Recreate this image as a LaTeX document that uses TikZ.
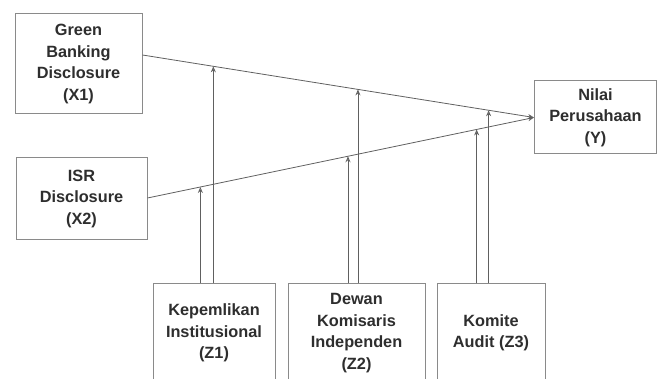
\documentclass[tikz,border=0pt]{standalone}
\usepackage{fontspec}
\setmainfont{Liberation Sans}
\usetikzlibrary{calc,arrows.meta}
\definecolor{boxc}{HTML}{8A8A8A}
\definecolor{linec}{HTML}{606060}
\definecolor{txtc}{HTML}{2E2E2E}
\tikzset{
  varbox/.style={draw=boxc,line width=1pt,fill=white,align=center,inner sep=0pt,
    text=txtc,font=\fontsize{16.3}{21.5}\selectfont\bfseries},
  conn/.style={draw=linec,line width=0.8pt,-{Stealth[length=6pt,width=5pt,open]}},
}
\begin{document}
\begin{tikzpicture}[x=1pt,y=-1pt]
\useasboundingbox (0,0) rectangle (657,379);
\clip (0,0) rectangle (657,379);
\node[varbox,minimum width=127pt,minimum height=100pt] (X1) at (78.5,64) {Green\\Banking\\Disclosure\\(X1)};
\node[varbox,minimum width=131pt,minimum height=82pt] (X2) at (81.5,199) {ISR\\Disclosure\\(X2)};
\node[varbox,minimum width=122pt,minimum height=73pt] (Y) at (595.5,117.5) {Nilai\\Perusahaan\\(Y)};
\node[varbox,minimum width=122pt,minimum height=98pt] (Z1) at (214,333) {Kepemlikan\\Institusional\\(Z1)};
\node[varbox,minimum width=137pt,minimum height=98pt] (Z2) at (356.5,333) {Dewan\\Komisaris\\Independen\\(Z2)};
\node[varbox,minimum width=108pt,minimum height=98pt] (Z3) at (491,333) {Komite\\Audit (Z3)};
\coordinate (s1) at (X1.east |- 0,55);
\coordinate (s2) at (X2.east |- 0,198);
\draw[conn] (s1) -- (Y.west);
\draw[conn] (s2) -- (Y.west);
% points on the lines
\coordinate (a1) at ($(s2)!{(200-147)/(534.5-147)}!(Y.west)$);
\coordinate (b1) at ($(s1)!{(213-142)/(534.5-142)}!(Y.west)$);
\coordinate (a2) at ($(s2)!{(348-147)/(534.5-147)}!(Y.west)$);
\coordinate (b2) at ($(s1)!{(358-142)/(534.5-142)}!(Y.west)$);
\coordinate (a3) at ($(s2)!{(477-147)/(534.5-147)}!(Y.west)$);
\coordinate (b3) at ($(s1)!{(489-142)/(534.5-142)}!(Y.west)$);
\draw[conn] (Z1.north -| a1) -- (a1);
\draw[conn] (Z1.north -| b1) -- (b1);
\draw[conn] (Z2.north -| a2) -- (a2);
\draw[conn] (Z2.north -| b2) -- (b2);
\draw[conn] (Z3.north -| a3) -- (a3);
\draw[conn] (Z3.north -| b3) -- (b3);
\end{tikzpicture}
\end{document}
